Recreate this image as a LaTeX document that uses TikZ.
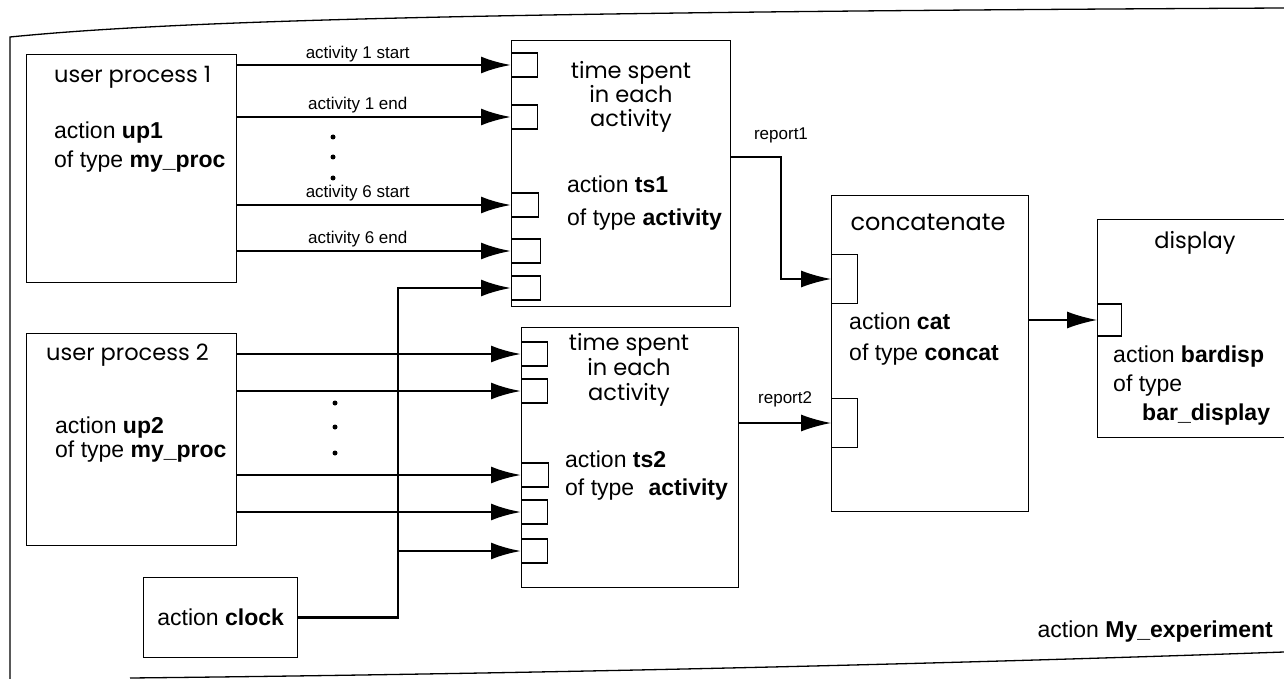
\documentclass[tikz,border=0pt]{standalone}
\usepackage{fontspec}
\setmainfont{Liberation Sans}
\newfontfamily\geofont{Poppins}
\usetikzlibrary{arrows.meta,positioning,calc}

\begin{document}
\begin{tikzpicture}[
        x=1pt, y=-1pt,
        box/.style={
          draw,
          line width=1.3pt,
          inner sep=0pt,
          anchor=north west
        },
        port/.style={
          draw,
          line width=1.2pt,
          inner sep=0pt,
          anchor=west,
          minimum width=26pt,
          minimum height=24pt
        },
        body/.style={align=left, anchor=west, inner sep=0pt,
          font=\fontsize{23}{29}\selectfont},
        title/.style={align=center, inner sep=0pt,
          font=\geofont\fontsize{22.5}{24}\selectfont},
        lbl/.style={inner sep=0pt, font=\fontsize{17}{18}\selectfont},
        flow/.style={->, line width=2.8pt},
        link/.style={->, line width=1.5pt},
        >={Latex[length=30pt,width=17pt]}
      ]

        \useasboundingbox (0,0) rectangle (1284,679);
        \clip (0,0) rectangle (1284,679);

        % frame of the whole experiment
        \draw[line width=1.3pt] (10,679) -- (10,37) .. controls (180,20) and (500,12) .. (1284,8);
        \draw[line width=1.3pt] (130,678) .. controls (600,673) and (1000,662) .. (1284,652);

        % actions
        \node[box, minimum width=210pt, minimum height=228pt] (up1) at (26,54) {};
        \node[box, minimum width=210pt, minimum height=212pt] (up2) at (26,333) {};
        \node[box, minimum width=219pt, minimum height=266pt] (ts1) at (511,40) {};
        \node[box, minimum width=217pt, minimum height=260pt] (ts2) at (521,327) {};
        \node[box, minimum width=197pt, minimum height=316pt] (cat) at (831,195) {};
        \node[box, minimum width=220pt, minimum height=218pt] (disp) at (1097,219) {};
        \node[box, minimum width=154pt, minimum height=80pt,
          font=\fontsize{23}{29}\selectfont] (clock) at (143,577) {action \textbf{clock}};

        % input ports
        \node[port] (ts1in1) at (511,65) {};
        \node[port] (ts1in2) at (511,117) {};
        \node[port, minimum width=27pt] (ts1in3) at (511,205) {};
        \node[port, minimum width=29pt] (ts1in4) at (511,251) {};
        \node[port, minimum width=29pt] (ts1in5) at (511,288) {};
        \node[port] (ts2in1) at (521,354) {};
        \node[port] (ts2in2) at (521,391) {};
        \node[port, minimum width=27pt] (ts2in3) at (521,475) {};
        \node[port] (ts2in4) at (521,512) {};
        \node[port] (ts2in5) at (521,551) {};
        \node[port, minimum height=49pt] (catin1) at (831,279) {};
        \node[port, minimum height=49pt] (catin2) at (831,423) {};
        \node[port, minimum width=24pt, minimum height=32pt] (dispin) at (1097,320) {};

        % texts
        \node[title, anchor=west] (up1ttl) at (54,77) {user process 1};
        \node[body] (up1txt) at (54,147.5) {action \textbf{up1}\\of type \textbf{my\_proc}};
        \node[title, anchor=west] (up2ttl) at (46,355) {user process 2};
        \node[body, font=\fontsize{23}{24}\selectfont] (up2txt) at (55,440)
          {action \textbf{up2}\\of type \textbf{my\_proc}};
        \node[title] (ts1ttl) at (631,97) {time spent\\in each\\activity};
        \node[body, font=\fontsize{23}{33}\selectfont] (ts1txt) at (567,203.5)
          {action \textbf{ts1}\\of type \textbf{activity}};
        \node[title, font=\geofont\fontsize{22.5}{25}\selectfont] (ts2ttl) at (629,370)
          {time spent\\in each\\activity};
        \node[body, font=\fontsize{23}{28}\selectfont] (ts2txt) at (565,476)
          {action \textbf{ts2}\\of type\hspace{8pt} \textbf{activity}};
        \node[title, font=\geofont\fontsize{24}{26}\selectfont] (catttl) at (928,222) {concatenate};
        \node[body, font=\fontsize{23}{31}\selectfont] (cattxt) at (849,339.5)
          {action \textbf{cat}\\of type \textbf{concat}};
        \node[title] (dispttl) at (1195,243) {display};
        \node[body] (disptxt) at (1113,386)
          {action \textbf{bardisp}\\of type\\\hspace{29pt}\textbf{bar\_display}};
        \node[body, anchor=east] (expttxt) at (1273,632) {action \textbf{My\_experiment}};

        % activities of user process 1
        \draw[flow] (ts1in1.west -| up1.east) -- node[lbl, above=2pt, pos=0.44] (l1s) {activity 1 start} (ts1in1.west);
        \draw[flow] (ts1in2.west -| up1.east) -- node[lbl, above=3pt, pos=0.44] (l1e) {activity 1 end} (ts1in2.west);
        \draw[flow] (ts1in3.west -| up1.east) -- node[lbl, above=3pt, pos=0.44] (l6s) {activity 6 start} (ts1in3.west);
        \draw[flow] (ts1in4.west -| up1.east) -- node[lbl, above=3pt, pos=0.44] (l6e) {activity 6 end} (ts1in4.west);
        \fill (333,137) circle (2.5pt);
        \fill (333,157) circle (2.5pt);
        \fill (333,178) circle (2.5pt);

        % activities of user process 2
        \draw[flow] (ts2in1.west -| up2.east) -- (ts2in1.west);
        \draw[flow] (ts2in2.west -| up2.east) -- (ts2in2.west);
        \draw[flow] (ts2in3.west -| up2.east) -- (ts2in3.west);
        \draw[flow] (ts2in4.west -| up2.east) -- (ts2in4.west);
        \fill (335,403) circle (2.5pt);
        \fill (335,427) circle (2.5pt);
        \fill (335,453) circle (2.5pt);

        % clock
        \coordinate (bus) at (398,0);
        \draw[flow] (clock.east) -| (bus |- ts1in5.west) -- (ts1in5.west);
        \draw[flow] (bus |- ts2in5.west) -- (ts2in5.west);

        % reports
        \coordinate (r1bend) at (781,157);
        \draw[link] (ts1.east |- r1bend) -- (r1bend) |- (catin1.west);
        \node[lbl, above=14pt of r1bend] (rep1) {report1};
        \draw[link] (ts2.east |- catin2.west) -- node[lbl, above=15pt] (rep2) {report2} (catin2.west);
        \draw[link] (cat.east |- dispin.west) -- (dispin.west);

      \end{tikzpicture}
\end{document}
